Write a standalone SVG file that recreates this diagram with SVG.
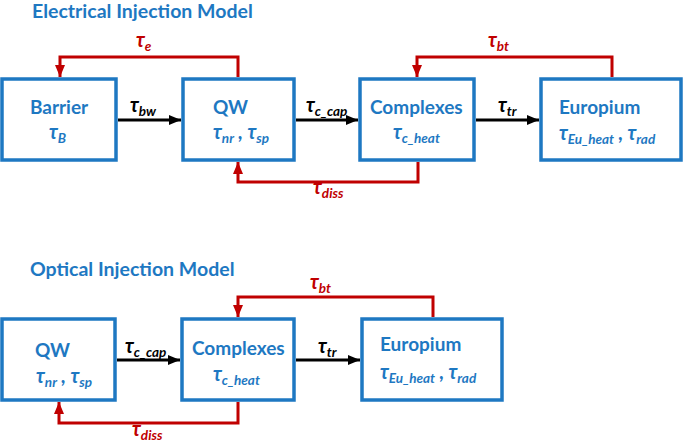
<svg xmlns="http://www.w3.org/2000/svg" width="685" height="443" viewBox="0 0 685 443">
<style>
  .box { fill: #ffffff; stroke: #1e78c2; stroke-width: 3.5; }
  .title { font-family: Lato, "Open Sans", sans-serif; font-weight: bold; font-size: 19.5px; fill: #1e78c2; }
  .name { font-family: Lato, "Open Sans", sans-serif; font-weight: bold; font-size: 19px; fill: #1e78c2; }
  .tau { font-family: Lato, "Open Sans", sans-serif; font-weight: bold; font-style: italic; font-size: 20px; }
  .blue { fill: #1e78c2; }
  .black { fill: #000000; }
  .red { fill: #c00000; }
  .sub { font-size: 13.5px; }
  .fwd { fill: none; stroke: #000000; stroke-width: 3; }
  .back { fill: none; stroke: #c00000; stroke-width: 3; }
</style>
<defs>
  <marker id="ah-black" markerUnits="userSpaceOnUse" markerWidth="12" markerHeight="12" viewBox="0 0 12 12" refX="12" refY="6" orient="auto">
    <path d="M0,1 L12,6 L0,11 Z" fill="#000000"/>
  </marker>
  <marker id="ah-red" markerUnits="userSpaceOnUse" markerWidth="12" markerHeight="12" viewBox="0 0 12 12" refX="12" refY="6" orient="auto">
    <path d="M0,1 L12,6 L0,11 Z" fill="#c00000"/>
  </marker>
</defs>

<text class="title" x="32" y="18">Electrical Injection Model</text>
<text class="title" x="30" y="276">Optical Injection Model</text>

<g id="connectors">
  <!-- electrical -->
  <line class="fwd" x1="118" y1="120" x2="181" y2="120" marker-end="url(#ah-black)"/>
  <line class="fwd" x1="296" y1="120" x2="358" y2="120" marker-end="url(#ah-black)"/>
  <line class="fwd" x1="476" y1="120" x2="539" y2="120" marker-end="url(#ah-black)"/>
  <path class="back" d="M238,77 V57 H60 V77" marker-end="url(#ah-red)"/>
  <path class="back" d="M612,77 V57 H417 V77" marker-end="url(#ah-red)"/>
  <path class="back" d="M418,162 V182 H238 V162" marker-end="url(#ah-red)"/>
  <!-- optical -->
  <line class="fwd" x1="117" y1="360" x2="180" y2="360" marker-end="url(#ah-black)"/>
  <line class="fwd" x1="296" y1="360" x2="360" y2="360" marker-end="url(#ah-black)"/>
  <path class="back" d="M433,317 V297 H238 V317" marker-end="url(#ah-red)"/>
  <path class="back" d="M238,402 V423 H59 V402" marker-end="url(#ah-red)"/>

  <!-- labels -->
  <text class="tau red" x="136" y="47">τ<tspan class="sub" dy="4">e</tspan></text>
  <text class="tau black" x="130" y="112">τ<tspan class="sub" dy="4">bw</tspan></text>
  <text class="tau black" x="306" y="112">τ<tspan class="sub" dy="4">c_cap</tspan></text>
  <text class="tau black" x="498" y="112">τ<tspan class="sub" dy="4">tr</tspan></text>
  <text class="tau red" x="488" y="47">τ<tspan class="sub" dy="4">bt</tspan></text>
  <text class="tau red" x="313" y="194">τ<tspan class="sub" dy="4">diss</tspan></text>
  <text class="tau black" x="125" y="353">τ<tspan class="sub" dy="4">c_cap</tspan></text>
  <text class="tau black" x="318" y="353">τ<tspan class="sub" dy="4">tr</tspan></text>
  <text class="tau red" x="310" y="289">τ<tspan class="sub" dy="4">bt</tspan></text>
  <text class="tau red" x="132" y="436">τ<tspan class="sub" dy="4">diss</tspan></text>
</g>

<g id="e-barrier">
  <rect class="box" x="2" y="79" width="114" height="81"/>
  <text class="name" x="59" y="114" text-anchor="middle">Barrier</text>
  <text class="tau blue" x="49" y="139">τ<tspan class="sub" dy="4">B</tspan></text>
</g>
<g id="e-qw">
  <rect class="box" x="183" y="79" width="111" height="81"/>
  <text class="name" x="213" y="114">QW</text>
  <text class="tau blue" x="213" y="139">τ<tspan class="sub" dy="4">nr</tspan><tspan dy="-4"> , τ</tspan><tspan class="sub" dy="4">sp</tspan></text>
</g>
<g id="e-complexes">
  <rect class="box" x="360" y="79" width="114" height="81"/>
  <text class="name" x="370" y="114">Complexes</text>
  <text class="tau blue" x="393" y="139">τ<tspan class="sub" dy="4">c_heat</tspan></text>
</g>
<g id="e-europium">
  <rect class="box" x="541" y="79" width="140" height="81"/>
  <text class="name" x="559" y="114">Europium</text>
  <text class="tau blue" x="559" y="140">τ<tspan class="sub" dy="4">Eu_heat</tspan><tspan dy="-4"> , τ</tspan><tspan class="sub" dy="4">rad</tspan></text>
</g>

<g id="o-qw">
  <rect class="box" x="2" y="319" width="113" height="81"/>
  <text class="name" x="35" y="357">QW</text>
  <text class="tau blue" x="36" y="383">τ<tspan class="sub" dy="4">nr</tspan><tspan dy="-4"> , τ</tspan><tspan class="sub" dy="4">sp</tspan></text>
</g>
<g id="o-complexes">
  <rect class="box" x="182" y="319" width="112" height="81"/>
  <text class="name" x="192" y="355">Complexes</text>
  <text class="tau blue" x="213" y="381">τ<tspan class="sub" dy="4">c_heat</tspan></text>
</g>
<g id="o-europium">
  <rect class="box" x="362" y="319" width="140" height="81"/>
  <text class="name" x="380" y="351">Europium</text>
  <text class="tau blue" x="380" y="379">τ<tspan class="sub" dy="4">Eu_heat</tspan><tspan dy="-4"> , τ</tspan><tspan class="sub" dy="4">rad</tspan></text>
</g>
</svg>
